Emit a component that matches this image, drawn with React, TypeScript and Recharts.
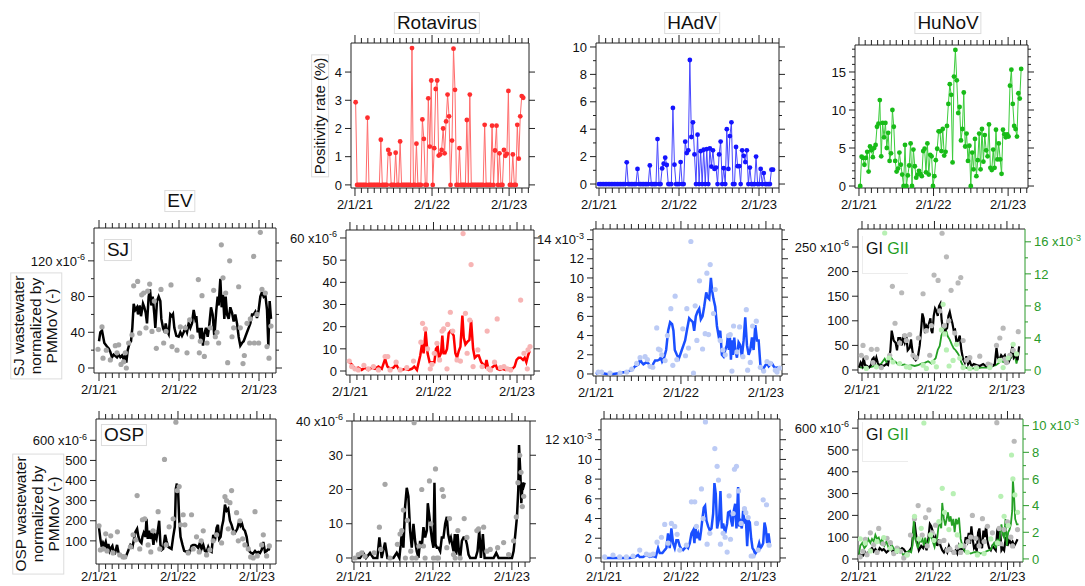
import React from 'react';
import { ComposedChart, Line, Scatter, XAxis, YAxis } from 'recharts';

type P = [number, number];
type Pt = { t: number; v: number };

const AX = '#222';
const GREEN_AX = '#2a9a2a';
const FONT = '"Liberation Sans", Arial, Helvetica, sans-serif';

// x values are months since 2/1/21
const MONTH_LABELS: Record<number, string> = { 0: '2/1/21', 12: '2/1/22', 24: '2/1/23' };

// ---------- Row 1: positivity rate (%), weekly ----------
const rotaPosRange: P = [0.1, 26.2];
const rotaPos = [2.93, 0, 0, 0, 0, 0, 0, 0, 2.38, 0, 0, 0, 0, 0, 0, 0, 0, 1.6, 0, 0, 0, 0, 1.24, 1.1, 0, 0, 0, 1.14, 0, 0, 1.54, 0, 0, 0, 0, 0, 0, 0, 4.85, 0, 0, 1.46, 0, 0, 0, 2.32, 1.63, 0, 0, 3.07, 1.36, 3.7, 0, 1.3, 3.4, 3.7, 1.04, 1.08, 1.24, 2.0, 1.12, 2.25, 3.2, 2.43, 0, 1.57, 4.83, 3.37, 0, 0, 1.3, 0, 0, 0, 0, 2.3, 0, 3.2, 0, 0, 0, 0, 0, 0, 0, 0, 0, 2.13, 0, 0, 0, 0, 2.1, 0, 1.22, 2.1, 0, 1.12, 0, 0, 1.24, 1.03, 1.1, 3.33, 0, 0, 1.08, 0, 0, 2.13, 0.93, 2.43, 3.15, 3.09];

const hadvPosRange: P = [0, 26.1];
const hadvPos = [0, 0, 0, 0, 0, 0, 0, 0, 0, 0, 0, 0, 0, 0, 0, 0, 0, 0, 1.58, 0, 0, 0, 0, 0, 0, 1.1, 0, 0, 0, 0, 0, 0, 0, 1.36, 0, 0, 0, 0, 3.28, 0, 0, 1.14, 1.48, 1.92, 1.39, 0, 0, 0, 5.55, 1.41, 0, 0, 0, 1.6, 0, 0, 3.09, 2.26, 2.46, 9.05, 3.43, 4.5, 2.16, 0, 3.6, 0, 2.4, 0, 2.5, 0, 2.55, 0, 2.6, 1.27, 2.46, 1.1, 1.2, 0, 2.16, 3.1, 0, 1.15, 0, 4.0, 1.1, 3.5, 4.5, 0, 0, 2.7, 1.3, 1.3, 0, 2.46, 2.06, 1.6, 2.46, 0, 1.2, 0, 0, 0, 2.0, 0, 0, 1.1, 0, 0.8, 0, 0, 0, 0, 1.05, 1.05];

const hunovPosRange: P = [0.2, 26.1];
const hunovPos = [0, 3.85, 3.7, 2.8, 3.7, 4.5, 1.9, 5.2, 4.7, 3.8, 5.0, 5.4, 7.8, 8.2, 11.3, 3.9, 8.3, 6.4, 8.3, 5.0, 7.0, 3.3, 4.3, 10.0, 7.8, 3.3, 1.9, 2.3, 4.4, 2.8, 1.5, 0, 5.4, 0, 1.4, 2.7, 5.6, 0, 4.8, 2.6, 1.1, 1.5, 2.0, 1.6, 1.3, 4.6, 4.9, 1.8, 5.6, 1.5, 4.1, 3.9, 0, 1.3, 3.4, 4.9, 7.2, 7.2, 4.6, 7.5, 4.0, 4.5, 7.9, 10.8, 13.4, 12.0, 3.1, 14.4, 17.9, 13.9, 9.6, 10.4, 6.0, 7.5, 12.3, 5.2, 6.9, 3.3, 5.3, 0, 4.4, 2.2, 6.2, 1.3, 3.4, 6.9, 2.2, 7.5, 3.2, 6.7, 4.7, 3.9, 8.1, 2.4, 2.1, 4.8, 2.4, 7.4, 3.5, 5.6, 3.5, 1.6, 7.4, 6.8, 6.4, 6.8, 6.5, 13.2, 15.3, 10.8, 7.9, 7.5, 6.5, 12.2, 11.5, 15.4];

// ---------- Row 2: SJ wastewater ----------
const evSjLine: P[] = [[0, 30], [0.2, 40], [0.45, 42], [0.8, 28], [1.2, 24], [1.45, 22], [1.7, 18], [1.95, 12], [2.2, 15], [2.7, 12], [2.95, 15], [3.2, 12], [3.45, 14], [3.7, 10], [3.95, 15], [4.1, 6], [4.3, 20], [4.6, 28], [4.8, 30], [5.0, 45], [5.2, 72], [5.45, 65], [5.7, 68], [5.85, 60], [6.1, 70], [6.3, 58], [6.6, 72], [6.8, 68], [7.0, 62], [7.2, 50], [7.45, 80], [7.65, 88], [7.85, 70], [8.05, 80], [8.3, 60], [8.45, 45], [8.7, 75], [8.95, 80], [9.2, 75], [9.35, 55], [9.6, 45], [9.85, 40], [10.0, 50], [10.2, 42], [10.45, 38], [10.7, 60], [10.95, 58], [11.1, 60], [11.3, 45], [11.6, 36], [11.95, 35], [12.2, 40], [12.45, 36], [12.7, 40], [12.95, 45], [13.2, 40], [13.45, 50], [13.7, 45], [13.95, 50], [14.2, 65], [14.45, 55], [14.6, 58], [14.8, 40], [15.0, 45], [15.2, 32], [15.4, 45], [15.6, 25], [15.8, 38], [16.05, 45], [16.3, 35], [16.5, 45], [16.8, 68], [17.05, 60], [17.3, 35], [17.6, 65], [17.8, 80], [17.95, 70], [18.2, 100], [18.4, 68], [18.6, 82], [18.8, 55], [19.0, 80], [19.2, 60], [19.45, 55], [19.7, 68], [19.95, 62], [20.2, 52], [20.45, 60], [20.7, 50], [20.95, 35], [21.2, 25], [21.45, 28], [21.7, 30], [21.95, 35], [22.2, 40], [22.45, 45], [22.7, 50], [22.95, 60], [23.2, 60], [23.45, 63], [23.7, 56], [23.95, 65], [24.2, 80], [24.45, 85], [24.7, 80], [24.95, 82], [25.2, 65], [25.4, 25], [25.6, 75], [25.8, 55]];
const evSjPts: P[] = [[-0.15, 21], [0.45, 46], [0.6, 11], [1.1, 20], [1.7, 9], [2.45, 25], [2.7, 17], [2.95, 26], [3.3, 4], [3.7, 7], [3.95, 17], [4.1, 0], [4.45, 28], [4.95, 37], [5.2, 92], [5.8, 97], [6.1, 39], [6.4, 82], [6.7, 84], [7.05, 45], [7.3, 86], [7.6, 94], [7.95, 41], [8.3, 75], [8.6, 22], [8.95, 43], [9.3, 88], [9.7, 28], [10.05, 41], [10.8, 93], [10.95, 24], [11.7, 20], [12.2, 46], [12.95, 45], [13.2, 17], [13.6, 54], [13.95, 35], [14.9, 99], [15.05, 17], [15.2, 30], [15.45, 81], [15.8, 13], [16.2, 28], [16.7, 45], [17.2, 87], [17.45, 35], [17.7, 40], [17.95, 28], [18.35, 138], [18.6, 101], [19.0, 84], [19.3, 6], [19.6, 120], [19.95, 35], [20.2, 45], [20.95, 91], [21.2, 45], [21.6, 5], [21.8, 14], [22.2, 50], [22.6, 28], [22.7, 55], [23.2, 125], [23.3, 28], [23.7, 60], [23.95, 28], [24.2, 152], [24.45, 88], [24.95, 84], [25.2, 24], [25.5, 11], [25.8, 47]];

const rotaSjLine: P[] = [[-0.1, 4], [0.24, 3], [0.72, 1], [1.2, 1.5], [1.68, 0.5], [2.16, 1.5], [2.64, 0.5], [3.13, 1.5], [3.6, 1], [4.09, 2], [4.57, 1], [5.05, 5.5], [5.38, 2], [5.77, 1], [6.25, 1.5], [6.63, 3], [6.97, 1], [7.45, 0.5], [7.93, 1], [8.41, 0.5], [8.89, 1], [9.23, 2], [9.62, 0.5], [10.1, 7], [10.34, 12], [10.58, 8], [10.87, 18], [11.15, 8], [11.44, 4], [11.78, 4], [12.12, 4], [12.36, 10], [12.6, 11], [12.79, 6], [13.08, 8], [13.27, 16], [13.46, 8], [13.7, 8], [13.94, 10], [14.18, 17], [14.42, 18], [14.71, 17], [14.9, 16], [15.14, 8], [15.38, 6], [15.63, 9], [15.87, 11], [16.15, 25], [16.35, 15], [16.59, 12], [16.83, 13], [17.16, 14], [17.4, 23], [17.69, 10], [17.93, 6], [18.27, 7], [18.51, 7], [18.85, 4], [19.13, 3], [19.42, 2], [19.62, 5], [19.81, 2], [20.0, 0.5], [20.19, 1], [20.58, 2], [20.91, 3], [21.15, 1], [21.54, 0.5], [21.88, 1], [22.36, 0.5], [22.84, 1], [23.32, 1], [23.65, 2], [23.94, 5], [24.23, 6], [24.52, 6], [24.86, 5], [25.1, 6], [25.34, 4], [25.58, 7], [25.82, 9]];
const rotaSjPts: P[] = [[-0.1, 4.5], [0.24, 2], [0.72, 1], [1.2, 0.5], [2.0, 2.5], [2.64, 1], [3.37, 2], [4.09, 0.5], [5.05, 6.5], [5.43, 6.5], [5.77, 0.5], [6.63, 4], [7.21, 0.5], [8.17, 1.5], [9.13, 4.5], [10.19, 13], [10.43, 21.5], [10.82, 19], [11.15, 10], [11.54, 1], [11.78, 3], [12.12, 8], [12.5, 12.5], [12.88, 5], [13.22, 18], [13.46, 19], [13.94, 1], [14.04, 21], [14.42, 26.5], [14.76, 18], [15.38, 5], [15.87, 4.5], [16.25, 62], [16.59, 26], [16.83, 8], [17.21, 23], [17.4, 48], [17.69, 2], [18.37, 9.5], [18.99, 2], [19.71, 18], [19.95, 1], [20.19, 0.5], [20.77, 4], [21.15, 23.5], [21.63, 1.5], [22.12, 2], [22.6, 1], [23.08, 0.5], [24.52, 32], [25.0, 8], [25.48, 1], [25.58, 9.5], [25.87, 11]];

const hadvSjLine: P[] = [[0, 0], [0.33, 0.2], [0.8, 0.1], [1.51, 0], [2.45, 0], [3.4, 0.1], [4.1, 0.2], [4.58, 0.3], [5.05, 0.4], [5.52, 0.8], [5.99, 1.0], [6.23, 1.5], [6.46, 1.2], [6.7, 1.0], [7.08, 1.2], [7.41, 1.1], [7.64, 0.8], [7.92, 0.7], [8.11, 1.1], [8.35, 1.4], [8.68, 1.4], [8.96, 1.5], [9.15, 1.7], [9.34, 1.3], [9.62, 1.7], [9.91, 2.5], [10.19, 4.5], [10.47, 5.4], [10.75, 5.2], [10.94, 4.5], [11.13, 2.5], [11.42, 2.0], [11.7, 1.6], [11.89, 2.0], [12.12, 2.5], [12.36, 3.0], [12.59, 3.5], [12.83, 4.5], [13.16, 5.8], [13.4, 5.6], [13.68, 5.4], [13.87, 4.5], [14.1, 6.0], [14.34, 6.5], [14.58, 6.8], [14.81, 5.7], [15.05, 6.0], [15.28, 7.0], [15.57, 8.5], [15.75, 8.0], [15.99, 7.8], [16.23, 10.0], [16.42, 8.6], [16.6, 7.8], [16.84, 7.0], [17.08, 5.0], [17.31, 4.0], [17.55, 4.5], [17.78, 2.0], [18.02, 1.8], [18.25, 2.5], [18.49, 3.0], [18.63, 4.0], [18.77, 2.5], [18.92, 3.8], [19.06, 1.5], [19.2, 3.5], [19.34, 2.0], [19.53, 3.8], [19.67, 2.5], [19.91, 1.7], [20.14, 3.3], [20.38, 3.0], [20.61, 1.8], [20.85, 3.5], [21.08, 5.9], [21.32, 3.0], [21.56, 2.0], [21.79, 2.5], [22.03, 3.8], [22.26, 2.5], [22.5, 5.1], [22.74, 3.5], [22.97, 3.5], [23.21, 1.0], [23.44, 0.5], [23.68, 0.6], [23.92, 0.9], [24.15, 1.1], [24.39, 0.8], [24.62, 1.0], [24.86, 1.1], [25.09, 0.8], [25.33, 0.6], [25.66, 0.7], [25.94, 0.6]];
const hadvSjPts: P[] = [[0.33, 0.2], [0.8, 0.2], [1.98, 0.1], [3.4, 0.1], [4.34, 0.2], [5.05, 0.5], [5.75, 1.1], [6.23, 1.7], [6.93, 1.8], [7.26, 1.5], [7.64, 0.8], [8.02, 0.7], [8.58, 4.8], [8.82, 2.6], [9.06, 2.5], [9.29, 2.0], [9.76, 1.4], [10.09, 4.0], [10.57, 6.8], [10.85, 0.9], [11.18, 8.1], [11.42, 1.5], [12.26, 4.7], [12.64, 1.9], [12.83, 6.8], [13.07, 2.7], [13.4, 13.8], [13.77, 0.1], [14.01, 7.1], [14.25, 3.5], [14.62, 9.7], [15.05, 2.6], [15.42, 4.2], [15.66, 10.5], [15.9, 4.1], [16.13, 11.4], [16.6, 6.3], [16.84, 8.8], [17.55, 3.5], [17.92, 2.5], [18.25, 2.0], [18.73, 4.0], [18.96, 4.1], [19.2, 0.3], [19.43, 5.0], [19.91, 2.3], [20.28, 4.9], [20.75, 1.8], [21.23, 6.7], [21.42, 0.4], [21.79, 1.2], [22.12, 5.0], [22.64, 5.5], [23.21, 0.7], [23.68, 0.3], [24.15, 1.3], [24.62, 1.1], [25.33, 0.4], [25.57, 0.2], [25.94, 0.6]];

const hunovSjGI: P[] = [[-0.5, 5], [-0.22, 15], [0.06, 8], [0.28, 25], [0.5, 10], [0.83, 8], [1.16, 5], [1.49, 10], [1.71, 22], [1.93, 25], [2.15, 15], [2.38, 25], [2.6, 15], [2.82, 8], [3.2, 10], [3.59, 8], [4.03, 12], [4.31, 10], [4.7, 40], [4.92, 80], [5.25, 60], [5.58, 55], [5.8, 40], [6.02, 65], [6.35, 65], [6.57, 50], [6.8, 65], [7.07, 55], [7.35, 68], [7.57, 40], [7.9, 45], [8.12, 62], [8.34, 40], [8.56, 25], [8.9, 20], [9.23, 25], [9.56, 50], [9.78, 80], [10.0, 115], [10.22, 105], [10.44, 75], [10.66, 90], [10.88, 85], [11.1, 95], [11.33, 105], [11.49, 80], [11.66, 75], [11.88, 110], [12.1, 125], [12.32, 120], [12.54, 110], [12.76, 130], [12.98, 135], [13.2, 100], [13.54, 75], [13.76, 80], [14.09, 85], [14.31, 110], [14.53, 118], [14.75, 105], [14.97, 95], [15.19, 80], [15.41, 82], [15.64, 55], [15.91, 60], [16.19, 70], [16.46, 40], [16.74, 22], [17.02, 15], [17.29, 28], [17.57, 12], [17.85, 18], [18.12, 8], [18.51, 12], [18.95, 10], [19.5, 8], [20.06, 12], [20.5, 8], [21.05, 10], [21.6, 8], [21.99, 12], [22.27, 45], [22.49, 25], [22.71, 20], [23.04, 30], [23.37, 25], [23.65, 30], [23.92, 18], [24.25, 15], [24.59, 25], [24.92, 50], [25.14, 25], [25.47, 30], [25.75, 20], [26.02, 48]];
const hunovSjGII: P[] = [[-0.5, 0.4], [-0.11, 0.3], [0.44, 0.3], [0.99, 0.3], [1.55, 0.4], [2.1, 0.5], [2.65, 0.6], [3.2, 0.8], [3.76, 1.4], [4.03, 1.0], [4.36, 1.2], [4.59, 2.0], [4.86, 1.5], [5.14, 1.2], [5.58, 1.0], [5.97, 0.7], [6.52, 0.6], [7.07, 0.7], [7.62, 0.5], [8.18, 0.6], [8.73, 0.5], [9.28, 0.6], [9.83, 0.8], [10.39, 0.9], [10.94, 1.1], [11.49, 0.8], [11.88, 1.2], [12.21, 1.5], [12.54, 2.5], [12.87, 3.0], [13.15, 4.3], [13.43, 4.8], [13.76, 5.1], [13.98, 4.8], [14.2, 4.2], [14.53, 3.8], [14.86, 3.2], [15.19, 2.7], [15.47, 2.5], [15.75, 2.2], [16.08, 1.8], [16.41, 1.0], [16.74, 0.5], [17.18, 0.3], [17.57, 0.2], [18.12, 0.2], [18.95, 0.2], [19.78, 0.3], [20.61, 0.3], [21.16, 0.4], [21.71, 0.5], [22.15, 0.6], [22.54, 0.8], [22.82, 1.0], [23.09, 1.2], [23.37, 1.0], [23.65, 1.2], [23.92, 1.4], [24.2, 1.5], [24.48, 1.8], [24.75, 1.6], [25.03, 2.0], [25.3, 1.8], [25.58, 0.8], [25.86, 1.7]];
const hunovSjGIPts: P[] = [[-0.11, 30], [0.17, 50], [0.72, 25], [1.55, 42], [1.82, 15], [2.49, 42], [3.2, 5], [4.59, 30], [5.03, 170], [5.47, 95], [6.24, 55], [6.57, 157], [7.07, 70], [7.35, 60], [7.9, 72], [8.45, 30], [9.0, 25], [9.34, 65], [10.11, 155], [10.66, 80], [11.22, 30], [11.49, 90], [11.93, 193], [12.6, 182], [12.87, 120], [13.26, 278], [13.65, 90], [13.98, 230], [14.37, 100], [14.75, 162], [15.36, 75], [15.91, 177], [16.35, 188], [16.74, 60], [17.29, 20], [17.85, 25], [18.95, 5], [19.5, 28], [20.88, 12], [21.27, 10], [22.27, 50], [22.82, 65], [23.37, 85], [23.65, 22], [23.92, 15], [24.48, 30], [25.03, 40], [25.86, 78]];
const hunovSjGIIPts: P[] = [[0.72, 0.2], [2.38, 0.4], [3.76, 17.1], [4.48, 1.5], [5.14, 1.0], [6.24, 0.8], [7.35, 0.4], [7.9, 0.3], [10.11, 0.6], [10.66, 0.2], [11.77, 1.0], [12.32, 0.4], [13.15, 5.0], [13.43, 8.2], [13.7, 4.5], [13.98, 2.5], [14.42, 0.5], [15.08, 1.2], [15.64, 3.2], [16.19, 1.5], [16.74, 0.3], [17.85, 0.2], [18.95, 0.2], [21.16, 0.3], [22.82, 1.2], [23.37, 0.3], [24.2, 1.5], [25.03, 3.2], [25.58, 2.0]];

// ---------- Row 3: OSP wastewater ----------
const evOspLine: P[] = [[0, 165], [0.2, 110], [0.41, 70], [0.61, 90], [0.81, 75], [1.02, 95], [1.22, 60], [1.42, 85], [1.62, 50], [1.83, 65], [2.03, 75], [2.23, 45], [2.44, 40], [2.74, 80], [2.94, 45], [3.15, 30], [3.45, 25], [3.76, 25], [4.06, 20], [4.42, 50], [4.77, 80], [5.08, 70], [5.33, 110], [5.53, 145], [5.79, 160], [5.99, 120], [6.19, 100], [6.45, 90], [6.6, 120], [6.8, 140], [7.06, 120], [7.21, 210], [7.41, 110], [7.61, 150], [7.82, 110], [8.07, 140], [8.27, 80], [8.48, 130], [8.73, 110], [8.93, 150], [9.14, 200], [9.34, 80], [9.54, 55], [9.75, 60], [10.05, 130], [10.25, 100], [10.51, 70], [10.76, 65], [11.02, 60], [11.27, 120], [11.52, 170], [11.68, 360], [11.83, 385], [12.03, 340], [12.18, 210], [12.39, 120], [12.69, 80], [12.94, 50], [13.3, 45], [13.6, 50], [13.81, 45], [14.06, 75], [14.31, 80], [14.57, 80], [14.82, 75], [15.08, 65], [15.33, 90], [15.58, 60], [15.84, 80], [16.09, 50], [16.35, 45], [16.6, 70], [16.85, 50], [17.11, 45], [17.36, 130], [17.61, 100], [17.87, 165], [18.07, 180], [18.27, 110], [18.48, 120], [18.68, 170], [18.88, 200], [19.14, 280], [19.39, 250], [19.64, 260], [19.9, 200], [20.15, 180], [20.41, 150], [20.66, 140], [21.02, 160], [21.32, 200], [21.52, 175], [21.73, 185], [21.93, 160], [22.18, 150], [22.44, 120], [22.69, 60], [22.94, 45], [23.35, 35], [23.71, 50], [23.96, 40], [24.21, 45], [24.47, 40], [24.72, 55], [24.97, 95], [25.23, 45], [25.48, 50], [25.74, 60], [25.99, 55]];
const evOspPts: P[] = [[0, 175], [0.2, 55], [0.61, 60], [1.02, 135], [1.22, 50], [1.78, 125], [2.13, 40], [2.79, 145], [3.15, 30], [3.65, 20], [3.91, 20], [4.77, 70], [5.18, 130], [5.58, 105], [5.79, 325], [6.19, 60], [6.6, 205], [6.95, 210], [7.46, 80], [7.87, 45], [8.22, 150], [8.98, 245], [9.24, 60], [9.95, 505], [10.2, 80], [10.66, 170], [11.27, 210], [11.68, 690], [11.88, 350], [12.18, 370], [12.39, 180], [12.79, 230], [13.05, 180], [13.55, 40], [14.06, 230], [14.31, 60], [14.82, 120], [15.23, 45], [15.53, 100], [15.84, 150], [16.35, 30], [16.85, 55], [17.36, 100], [17.87, 130], [18.63, 90], [19.14, 320], [19.39, 300], [19.64, 160], [19.9, 290], [20.15, 350], [20.41, 140], [20.91, 240], [21.17, 100], [21.42, 200], [21.83, 110], [22.18, 80], [22.69, 60], [23.05, 20], [23.45, 15], [23.71, 245], [24.06, 25], [24.72, 80], [24.97, 130], [25.48, 25], [25.89, 75]];

const rotaOspLine: P[] = [[0, 0], [0.41, 0], [0.91, 0], [1.42, 1.5], [1.83, 0], [2.44, 1.5], [2.94, 0], [3.55, 0], [3.86, 6], [4.21, 0], [4.72, 4.5], [5.08, 0], [5.48, 0], [5.99, 0], [6.5, 1.5], [6.9, 0], [7.26, 7], [7.51, 3], [7.77, 15], [8.02, 20.5], [8.27, 18], [8.53, 8], [8.78, 3], [9.04, 10], [9.29, 5], [9.54, 2], [9.8, 0], [10.05, 5], [10.3, 3], [10.56, 9], [10.81, 6], [11.07, 8], [11.22, 16], [11.47, 12], [11.68, 8], [11.88, 5], [12.08, 3], [12.23, 22], [12.39, 4], [12.59, 3], [12.84, 3], [13.1, 2], [13.35, 6], [13.6, 6], [13.86, 10], [14.11, 12], [14.31, 7], [14.52, 5], [14.72, 6], [14.92, 4], [15.13, 2], [15.33, 7], [15.53, 1], [15.74, 7], [15.94, 2], [16.14, 0], [16.4, 5], [16.65, 6], [16.9, 6], [17.16, 4], [17.41, 1], [17.66, 0], [18.07, 0], [18.48, 0], [18.78, 2], [19.04, 8], [19.29, 0], [19.59, 7], [19.85, 0], [20.2, 0], [20.71, 0], [21.22, 0], [21.62, 1.5], [21.98, 0], [22.49, 0], [23.0, 0], [23.5, 0], [24.01, 0], [24.26, 2], [24.52, 7], [24.77, 12], [24.97, 20], [25.08, 33], [25.28, 25], [25.43, 16], [25.63, 22], [25.79, 21], [25.94, 22]];
const rotaOspPts: P[] = [[0.15, 0], [0.66, 1], [1.17, 1.5], [1.68, 0.5], [3.05, 1.5], [3.86, 9], [4.06, 2.5], [4.72, 21.5], [5.48, 0], [6.6, 4], [7.0, 7], [7.26, 8], [7.51, 14], [7.82, 0], [8.12, 11], [8.63, 2], [8.83, 0], [9.14, 39.5], [9.44, 0], [9.85, 3.5], [10.3, 20], [10.56, 3.5], [10.81, 0], [11.47, 22.5], [11.68, 10], [12.08, 0], [12.39, 26], [12.59, 0], [12.84, 0], [13.4, 20], [13.6, 18], [14.11, 3], [14.52, 11.5], [15.13, 1], [15.38, 0], [15.79, 8], [16.14, 0], [16.75, 11.5], [17.16, 6], [18.68, 8], [18.93, 8.5], [19.7, 9], [20.2, 2], [20.71, 2.5], [21.83, 3], [22.74, 4.5], [23.5, 1], [24.26, 5], [24.67, 12], [24.92, 22], [25.18, 30], [25.38, 25], [25.58, 15], [25.79, 18]];

const hadvOspLine: P[] = [[0, 0], [0.88, 0], [1.92, 0], [2.96, 0], [4.0, 0], [4.78, 0.1], [5.3, 0.3], [5.56, 0.1], [6.08, 0.1], [6.6, 0.3], [7.12, 0.1], [7.64, 0.2], [8.05, 0.1], [8.42, 1.0], [8.68, 0.5], [9.09, 0.5], [9.45, 0.8], [9.71, 1.0], [9.97, 2.5], [10.23, 1.0], [10.49, 3.0], [10.75, 1.5], [11.01, 1.0], [11.27, 1.8], [11.53, 1.8], [11.79, 1.2], [12.05, 0.9], [12.31, 0.8], [12.57, 1.0], [12.83, 1.2], [13.09, 1.0], [13.35, 1.5], [13.61, 2.5], [13.87, 2.8], [14.08, 1.5], [14.23, 3.3], [14.39, 2.0], [14.65, 2.5], [14.91, 1.8], [15.12, 2.8], [15.32, 4.0], [15.53, 5.1], [15.74, 5.3], [15.95, 3.8], [16.21, 3.2], [16.47, 2.8], [16.73, 3.0], [16.99, 4.5], [17.19, 7.6], [17.4, 6.5], [17.61, 3.0], [17.92, 4.0], [18.13, 6.8], [18.34, 3.0], [18.55, 3.5], [18.86, 2.5], [19.17, 3.5], [19.32, 4.6], [19.58, 4.7], [19.79, 3.8], [20.0, 3.2], [20.21, 4.8], [20.42, 5.5], [20.62, 3.0], [20.88, 7.2], [21.04, 3.2], [21.25, 3.6], [21.45, 3.0], [21.66, 4.8], [21.87, 3.5], [22.08, 4.0], [22.29, 1.2], [22.49, 3.8], [22.7, 3.6], [22.91, 2.0], [23.12, 1.0], [23.32, 0.8], [23.53, 0.4], [23.74, 0.6], [23.95, 1.0], [24.16, 1.5], [24.36, 1.0], [24.57, 1.2], [24.78, 1.5], [24.99, 3.6], [25.19, 3.0], [25.4, 1.5], [25.61, 2.5], [25.82, 1.4]];
const hadvOspPts: P[] = [[0.1, 0.1], [1.4, 0.3], [2.44, 0.1], [3.48, 0.1], [4.52, 0.2], [5.56, 0.8], [6.6, 0.4], [7.12, 0.3], [7.64, 0.4], [8.26, 1.6], [8.94, 2.1], [9.45, 3.4], [9.97, 1.5], [10.49, 3.5], [11.01, 3.2], [11.38, 2.4], [11.79, 0.8], [12.83, 1.3], [13.61, 5.7], [14.13, 5.7], [14.39, 3.2], [15.17, 7.0], [15.43, 4.0], [15.79, 13.8], [16.05, 1.4], [16.47, 2.5], [17.25, 11.1], [17.61, 9.3], [17.82, 7.9], [18.13, 1.4], [18.55, 2.5], [18.86, 2.1], [19.17, 0.6], [19.48, 6.3], [19.69, 1.9], [20.1, 4.5], [20.31, 9.0], [20.62, 9.3], [20.94, 6.8], [21.35, 3.5], [21.87, 5.0], [22.08, 4.6], [22.44, 4.1], [22.91, 0.2], [23.22, 0.2], [23.74, 3.5], [24.0, 0.8], [24.78, 5.9], [25.3, 5.4], [25.71, 1.3]];

const hunovOspGI: P[] = [[0, 15], [0.27, 20], [0.7, 15], [1.08, 30], [1.35, 20], [1.78, 40], [2.16, 50], [2.43, 35], [2.7, 45], [3.07, 30], [3.4, 50], [3.78, 40], [4.05, 45], [4.48, 30], [4.85, 40], [5.12, 55], [5.45, 35], [5.77, 40], [6.2, 30], [6.63, 40], [7.01, 50], [7.28, 45], [7.61, 30], [7.93, 30], [8.25, 40], [8.58, 55], [8.79, 120], [9.01, 170], [9.22, 120], [9.44, 75], [9.71, 40], [10.09, 60], [10.41, 50], [10.68, 75], [10.95, 40], [11.27, 100], [11.49, 160], [11.7, 150], [11.92, 130], [12.14, 80], [12.41, 100], [12.68, 60], [12.94, 90], [13.21, 60], [13.48, 40], [13.75, 30], [14.02, 45], [14.29, 30], [14.56, 60], [14.83, 40], [15.1, 35], [15.37, 30], [15.64, 40], [15.91, 25], [16.18, 60], [16.45, 40], [16.72, 50], [16.99, 40], [17.26, 100], [17.53, 80], [17.75, 120], [17.96, 70], [18.18, 150], [18.39, 90], [18.61, 50], [18.82, 60], [19.04, 35], [19.26, 120], [19.47, 140], [19.69, 70], [19.9, 50], [20.12, 130], [20.33, 100], [20.55, 150], [20.77, 80], [21.04, 50], [21.31, 40], [21.57, 60], [21.84, 50], [22.11, 40], [22.38, 140], [22.65, 60], [22.82, 130], [23.03, 40], [23.25, 50], [23.46, 40], [23.73, 100], [24.0, 60], [24.27, 90], [24.54, 70], [24.81, 80], [25.08, 60], [25.35, 75], [25.62, 90]];
const hunovOspGII: P[] = [[0, 0.2], [0.27, 1.0], [0.59, 1.2], [0.92, 0.8], [1.24, 1.0], [1.56, 1.5], [1.89, 1.2], [2.16, 1.5], [2.43, 1.3], [2.7, 1.8], [2.97, 1.5], [3.24, 1.6], [3.51, 1.2], [3.78, 1.5], [4.15, 1.0], [4.48, 1.3], [4.85, 0.8], [5.12, 0.7], [5.39, 1.0], [5.66, 0.8], [5.93, 0.6], [6.2, 0.5], [6.53, 0.8], [6.85, 0.6], [7.17, 0.3], [7.5, 0.4], [7.82, 0.5], [8.14, 0.6], [8.47, 0.5], [8.68, 1.0], [8.9, 3.0], [9.12, 1.5], [9.33, 1.2], [9.55, 0.8], [9.87, 1.4], [10.09, 1.3], [10.3, 1.5], [10.52, 1.0], [10.73, 1.6], [10.95, 1.2], [11.17, 1.0], [11.38, 1.5], [11.6, 2.0], [11.81, 1.5], [12.03, 1.2], [12.24, 0.9], [12.46, 1.4], [12.68, 1.6], [12.89, 2.5], [13.11, 2.6], [13.32, 2.3], [13.48, 4.2], [13.75, 3.0], [13.97, 2.5], [14.19, 3.0], [14.4, 3.5], [14.62, 2.8], [14.83, 3.2], [15.05, 2.5], [15.26, 3.0], [15.48, 2.0], [15.7, 3.0], [15.91, 2.6], [16.18, 3.1], [16.45, 1.5], [16.72, 1.0], [16.99, 0.7], [17.26, 0.5], [17.53, 0.5], [18.07, 0.4], [18.61, 0.5], [19.15, 0.5], [19.69, 0.4], [20.23, 0.5], [20.77, 0.6], [21.31, 0.7], [21.57, 1.0], [21.84, 1.2], [22.11, 0.8], [22.38, 1.5], [22.65, 1.0], [22.82, 2.0], [23.03, 2.6], [23.25, 1.8], [23.46, 1.6], [23.68, 3.0], [23.89, 1.0], [24.11, 2.0], [24.33, 2.2], [24.54, 2.6], [24.76, 3.6], [24.87, 6.0], [25.08, 4.5], [25.24, 3.0], [25.51, 2.6], [25.78, 2.6]];
const hunovOspGIPts: P[] = [[0.27, 10], [0.7, 35], [1.08, 90], [1.35, 20], [1.89, 120], [2.43, 65], [2.97, 30], [3.24, 140], [3.94, 70], [4.58, 95], [5.12, 75], [5.66, 25], [6.2, 50], [6.74, 35], [7.28, 5], [7.82, 20], [8.36, 110], [9.01, 185], [9.6, 245], [10.25, 110], [10.79, 190], [11.06, 60], [11.33, 225], [11.87, 120], [12.41, 155], [13.11, 80], [13.75, 85], [14.29, 40], [14.72, 45], [15.37, 30], [15.91, 55], [16.45, 30], [16.99, 60], [17.64, 80], [18.07, 100], [18.34, 200], [18.88, 95], [19.42, 60], [19.96, 185], [20.23, 80], [20.77, 150], [21.57, 120], [22.28, 625], [22.65, 140], [22.92, 70], [23.46, 135], [24.0, 170], [24.54, 100], [24.81, 60], [25.08, 540], [25.62, 135]];
const hunovOspGIIPts: P[] = [[0.27, 1.5], [1.08, 1.2], [1.89, 0.6], [2.97, 1.3], [4.05, 1.6], [5.12, 0.8], [6.2, 0.6], [7.82, 0.3], [9.01, 3.2], [9.71, 1.5], [10.09, 2.3], [10.52, 10.2], [11.6, 1.8], [12.14, 1.4], [12.94, 2.8], [13.48, 5.3], [13.86, 3.5], [14.56, 2.2], [15.26, 4.9], [15.91, 1.8], [16.45, 1.0], [17.53, 0.5], [19.15, 0.3], [20.23, 0.4], [21.31, 1.5], [22.38, 1.2], [22.92, 4.7], [23.46, 3.2], [24.11, 2.5], [24.65, 7.8], [24.87, 6.0], [25.19, 4.8], [25.62, 3.5]];

// ---------- helpers ----------
const toPts = (a: P[]): Pt[] => a.map(([t, v]) => ({ t, v }));
const weekly = (vals: number[], range: P): Pt[] =>
  vals.map((v, i) => ({ t: range[0] + (i * (range[1] - range[0])) / (vals.length - 1), v }));

type Series = {
  kind: 'line' | 'scatter' | 'dotline';
  data: Pt[];
  color: string;
  width?: number;
  r?: number;
  dotColor?: string;
  right?: boolean;
};

type AxisCfg = { dom: [number, number]; major: number[]; minor?: number[]; top?: number; exp?: string; color?: string };

type PanelProps = {
  box: [number, number, number, number];
  xDom: [number, number];
  left: AxisCfg;
  right?: AxisCfg;
  series: Series[];
  labelDy?: number;
};

const LW = 80, RW = 80, TH = 14, BH = 28;

const xTick = (side: 'bottom' | 'top', labelDy: number) => (props: any) => {
  const { x, y, payload } = props;
  const v = payload.value;
  const lab = MONTH_LABELS[v];
  const len = lab ? 8 : 5;
  const d = side === 'bottom' ? 1 : -1;
  return (
    <g>
      <line x1={x} x2={x} y1={y} y2={y + d * len} stroke={AX} strokeWidth={1} />
      {side === 'bottom' && lab ? (
        <text x={x} y={y + labelDy} textAnchor="middle" fontSize={13} fontFamily={FONT} fill="#111">
          {lab}
        </text>
      ) : null}
    </g>
  );
};

const yTick = (side: 'left' | 'right', cfg: AxisCfg, labels: boolean) => (props: any) => {
  const { x, y, payload } = props;
  const v = payload.value;
  const major = cfg.major.includes(v);
  const len = major ? 6 : 3;
  const d = side === 'left' ? -1 : 1;
  const col = cfg.color || AX;
  const tcol = cfg.color || '#111';
  return (
    <g>
      <line x1={x} x2={x + d * len} y1={y} y2={y} stroke={col} strokeWidth={1} />
      {labels && major ? (
        <text x={x + d * 9} y={y} dy="0.36em" textAnchor={side === 'left' ? 'end' : 'start'} fontSize={13} fontFamily={FONT} fill={tcol}>
          {v}
          {cfg.top === v && cfg.exp ? (
            <>
              {' x10'}
              <tspan dy="-0.6em" fontSize={9}>
                {cfg.exp}
              </tspan>
            </>
          ) : null}
        </text>
      ) : null}
    </g>
  );
};

const dotShape = (fill: string, r: number) => (p: any) =>
  p.cx == null || p.cy == null ? <g /> : <circle cx={p.cx} cy={p.cy} r={r} fill={fill} />;

function Panel({ box, xDom, left, right, series, labelDy = 21 }: PanelProps) {
  const [l, t, r, b] = box;
  const W = r - l + LW + RW;
  const H = b - t + TH + BH;
  const xt: number[] = [];
  for (let m = Math.ceil(xDom[0]); m <= Math.floor(xDom[1]); m++) xt.push(m);
  const ticksOf = (c: AxisCfg) => [...c.major, ...(c.minor || [])].filter((v) => v >= c.dom[0] && v <= c.dom[1]).sort((a, b2) => a - b2);
  const rc: AxisCfg = right || left;
  const rColor = right?.color || AX;
  return (
    <div style={{ position: 'absolute', left: l - LW, top: t - TH, width: W, height: H }}>
      <ComposedChart width={W} height={H} margin={{ top: 0, right: 0, bottom: 0, left: 0 }}>
        <XAxis xAxisId="b" type="number" dataKey="t" domain={xDom} allowDataOverflow ticks={xt} interval={0} height={BH} tickSize={0} tickMargin={0} tickLine={false} axisLine={{ stroke: AX, strokeWidth: 1 }} tick={xTick('bottom', labelDy)} orientation="bottom" />
        <XAxis xAxisId="t" type="number" dataKey="t" domain={xDom} allowDataOverflow ticks={xt} interval={0} height={TH} tickSize={0} tickMargin={0} tickLine={false} axisLine={{ stroke: AX, strokeWidth: 1 }} tick={xTick('top', labelDy)} orientation="top" />
        <YAxis yAxisId="l" type="number" domain={left.dom} allowDataOverflow ticks={ticksOf(left)} interval={0} width={LW} tickSize={0} tickMargin={0} tickLine={false} axisLine={{ stroke: AX, strokeWidth: 1 }} tick={yTick('left', left, true)} orientation="left" />
        <YAxis yAxisId="r" type="number" domain={rc.dom} allowDataOverflow ticks={ticksOf(rc)} interval={0} width={RW} tickSize={0} tickMargin={0} tickLine={false} axisLine={{ stroke: rColor, strokeWidth: 1 }} tick={yTick('right', rc, !!right)} orientation="right" />
        {series.map((s, i) => {
          const yId = s.right ? 'r' : 'l';
          if (s.kind === 'scatter') {
            return <Scatter key={i} data={s.data} dataKey="v" xAxisId="b" yAxisId={yId} fill={s.color} shape={dotShape(s.color, s.r ?? 2.6)} isAnimationActive={false} />;
          }
          if (s.kind === 'dotline') {
            return (
              <Line key={i} data={s.data} dataKey="v" xAxisId="b" yAxisId={yId} type="linear" stroke={s.color} strokeWidth={s.width ?? 1}
                dot={{ r: s.r ?? 2.4, fill: s.dotColor || s.color, stroke: s.dotColor || s.color, strokeWidth: 0 }} activeDot={false} isAnimationActive={false} />
            );
          }
          return <Line key={i} data={s.data} dataKey="v" xAxisId="b" yAxisId={yId} type="linear" stroke={s.color} strokeWidth={s.width ?? 2.5} strokeLinejoin="miter" dot={false} activeDot={false} isAnimationActive={false} />;
        })}
      </ComposedChart>
    </div>
  );
}

const Boxed = ({ x, y, size, children, rotate, lh }: { x: number; y: number; size: number; children: React.ReactNode; rotate?: boolean; lh?: number }) => (
  <div
    style={{
      position: 'absolute',
      left: x,
      top: y,
      transform: `translate(-50%, -50%)${rotate ? ' rotate(-90deg)' : ''}`,
      fontFamily: FONT,
      fontSize: size,
      lineHeight: lh ? `${lh}px` : 1.05,
      border: '1px solid #dcdcdc',
      padding: '0 2px',
      whiteSpace: 'nowrap',
      textAlign: 'center',
      color: '#111',
    }}
  >
    {children}
  </div>
);

const GRAY = '#a6a6a6';
const GRAY2 = '#b9b9b9';

export default function App() {
  const odd = (a: number, b: number) => { const r: number[] = []; for (let i = a; i <= b; i += 2) r.push(i); return r; };
  return (
    <div style={{ position: 'absolute', left: 0, top: 0, width: 1085, height: 586, background: '#fff', overflow: 'hidden', fontFamily: FONT }}>
      {/* Row 1 */}
      <Panel box={[351, 43, 529, 188]} xDom={[-0.62, 27.1]}
        left={{ dom: [-0.11, 5.03], major: [0, 1, 2, 3, 4] }}
        series={[{ kind: 'dotline', data: weekly(rotaPos, rotaPosRange), color: '#ff6b6b', dotColor: '#ff2e2e', width: 1, r: 2.4 }]} />
      <Panel box={[596, 43, 779, 188]} xDom={[-0.45, 27.0]}
        left={{ dom: [-0.29, 10.29], major: [0, 2, 4, 6, 8, 10], minor: odd(1, 9) }}
        series={[{ kind: 'dotline', data: weekly(hadvPos, hadvPosRange), color: '#4646ff', dotColor: '#1414ff', width: 1, r: 2.4 }]} />
      <Panel box={[855, 45, 1028, 188]} xDom={[-0.64, 27.2]}
        left={{ dom: [-0.26, 18.55], major: [0, 5, 10, 15], minor: [1, 2, 3, 4, 6, 7, 8, 9, 11, 12, 13, 14, 16, 17, 18] }}
        series={[{ kind: 'dotline', data: weekly(hunovPos, hunovPosRange), color: '#3ccc3c', dotColor: '#18bb18', width: 1, r: 2.4 }]} />

      {/* Row 2: SJ */}
      <Panel box={[94, 228, 276, 373]} xDom={[-0.75, 26.55]}
        left={{ dom: [-5.6, 156.8], major: [0, 40, 80, 120], minor: [20, 60, 100, 140], top: 120, exp: '-6' }}
        series={[
          { kind: 'scatter', data: toPts(evSjPts), color: GRAY },
          { kind: 'line', data: toPts(evSjLine), color: '#000', width: 2.5 },
        ]} />
      <Panel box={[346, 230, 534, 375]} xDom={[-0.57, 26.44]}
        left={{ dom: [-1.8, 63.6], major: [0, 10, 20, 30, 40, 50, 60], top: 60, exp: '-6' }}
        series={[
          { kind: 'scatter', data: toPts(rotaSjPts), color: '#f7b4b4' },
          { kind: 'line', data: toPts(rotaSjLine), color: '#ff0000', width: 2.5 },
        ]} />
      <Panel box={[593, 229, 782, 376]} xDom={[-0.42, 26.27]}
        left={{ dom: [-0.21, 15.1], major: [0, 2, 4, 6, 8, 10, 12, 14], minor: odd(1, 15), top: 14, exp: '-3' }}
        series={[
          { kind: 'scatter', data: toPts(hadvSjPts), color: '#bccbf5' },
          { kind: 'line', data: toPts(hadvSjLine), color: '#1a4fff', width: 2.5 },
        ]} />
      <Panel box={[858, 229, 1025, 373]} xDom={[-0.66, 26.99]}
        left={{ dom: [-6.1, 286.6], major: [0, 50, 100, 150, 200, 250], top: 250, exp: '-6' }}
        right={{ dom: [-0.375, 17.6], major: [0, 4, 8, 12, 16], minor: [2, 6, 10, 14], top: 16, exp: '-3', color: GREEN_AX }}
        series={[
          { kind: 'scatter', data: toPts(hunovSjGIPts), color: GRAY2 },
          { kind: 'scatter', data: toPts(hunovSjGIIPts), color: '#b8f0b4', right: true },
          { kind: 'line', data: toPts(hunovSjGII), color: '#25a025', width: 1.8, right: true },
          { kind: 'line', data: toPts(hunovSjGI), color: '#000', width: 2.2 },
        ]} />

      {/* Row 3: OSP */}
      <Panel box={[96, 419, 276, 564]} xDom={[-0.46, 26.9]} labelDy={17}
        left={{ dom: [-15, 706], major: [100, 200, 300, 400, 500, 600], top: 600, exp: '-6' }}
        series={[
          { kind: 'scatter', data: toPts(evOspPts), color: GRAY },
          { kind: 'line', data: toPts(evOspLine), color: '#000', width: 2.5 },
        ]} />
      <Panel box={[352, 421, 530, 562]} xDom={[-0.3, 26.75]} labelDy={19}
        left={{ dom: [-1.17, 40.0], major: [0, 10, 20, 30, 40], top: 40, exp: '-6' }}
        series={[
          { kind: 'scatter', data: toPts(rotaOspPts), color: GRAY },
          { kind: 'line', data: toPts(rotaOspLine), color: '#000', width: 2.5 },
        ]} />
      <Panel box={[601, 419, 780, 562]} xDom={[-0.47, 27.4]} labelDy={19}
        left={{ dom: [-0.41, 14.1], major: [0, 2, 4, 6, 8, 10, 12], minor: odd(1, 13), top: 12, exp: '-3' }}
        series={[
          { kind: 'scatter', data: toPts(hadvOspPts), color: '#bccbf5' },
          { kind: 'line', data: toPts(hadvOspLine), color: '#1a4fff', width: 2.5 },
        ]} />
      <Panel box={[858, 419, 1023, 562]} xDom={[-0.1, 26.5]} labelDy={19}
        left={{ dom: [-13.8, 642], major: [0, 100, 200, 300, 400, 500, 600], top: 600, exp: '-6' }}
        right={{ dom: [-0.23, 10.5], major: [0, 2, 4, 6, 8, 10], minor: odd(1, 9), top: 10, exp: '-3', color: GREEN_AX }}
        series={[
          { kind: 'scatter', data: toPts(hunovOspGIPts), color: GRAY2 },
          { kind: 'scatter', data: toPts(hunovOspGIIPts), color: '#b8f0b4', right: true },
          { kind: 'line', data: toPts(hunovOspGI), color: '#000', width: 2.2 },
          { kind: 'line', data: toPts(hunovOspGII), color: '#25a025', width: 1.8, right: true },
        ]} />

      {/* Titles and labels */}
      <Boxed x={437} y={23} size={19}>Rotavirus</Boxed>
      <Boxed x={692} y={23} size={19}>HAdV</Boxed>
      <Boxed x={948} y={23} size={19}>HuNoV</Boxed>
      <Boxed x={180} y={201} size={19}>EV</Boxed>
      <Boxed x={320} y={116} size={15} rotate>Positivity rate (%)</Boxed>
      <Boxed x={36} y={326} size={15.5} rotate lh={16.5}>
        SJ wastewater<br />normalized by<br />PMMoV (-)
      </Boxed>
      <Boxed x={38} y={514} size={15.5} rotate lh={16.5}>
        OSP wastewater<br />normalized by<br />PMMoV (-)
      </Boxed>
      <Boxed x={118} y={250} size={19}>SJ</Boxed>
      <Boxed x={124} y={435} size={19}>OSP</Boxed>

      <div style={{ position: 'absolute', left: 862, top: 236, width: 45, height: 37, borderLeft: '1px solid #ececec', borderBottom: '1px solid #ececec' }} />
      <div style={{ position: 'absolute', left: 866, top: 241, fontSize: 16, fontFamily: FONT, lineHeight: 1, whiteSpace: 'nowrap' }}>
        <span style={{ color: '#111' }}>GI </span>
        <span style={{ color: '#1f9e1f' }}>GII</span>
      </div>
      <div style={{ position: 'absolute', left: 862, top: 422, width: 45, height: 39, borderLeft: '1px solid #ececec', borderBottom: '1px solid #ececec' }} />
      <div style={{ position: 'absolute', left: 866, top: 427, fontSize: 16, fontFamily: FONT, lineHeight: 1, whiteSpace: 'nowrap' }}>
        <span style={{ color: '#111' }}>GI </span>
        <span style={{ color: '#1f9e1f' }}>GII</span>
      </div>
    </div>
  );
}
